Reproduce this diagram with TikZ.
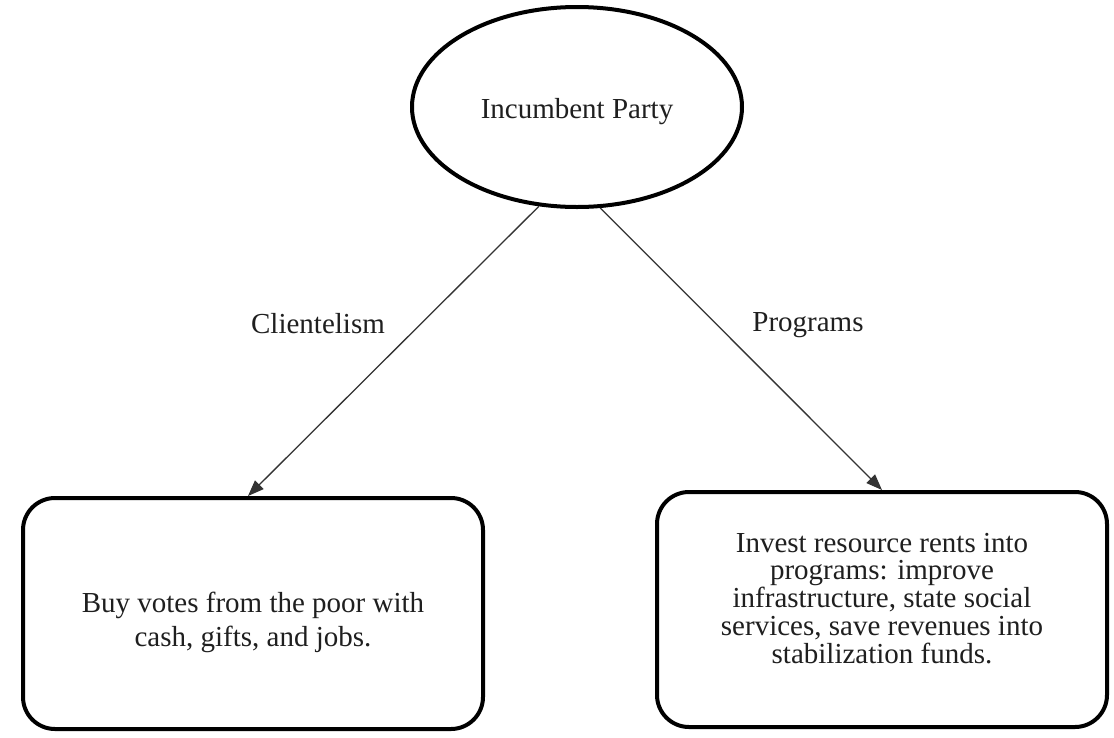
\documentclass[tikz,border=0pt]{standalone}
\usepackage{fontspec}
\setmainfont{Liberation Serif}
\usetikzlibrary{shapes.geometric,arrows.meta,calc}
\begin{document}
\begin{tikzpicture}[x=1pt,y=-1pt,
  every node/.style={font=\fontsize{29}{34}\selectfont, text=black!88},
  partyshape/.style={ellipse, draw, line width=4pt, minimum width=330pt,
    minimum height=200pt, inner sep=0pt, text height=22pt, text depth=0pt},
  outcome/.style={draw, line width=4pt, rounded corners=32pt, align=center, inner sep=0pt},
  link/.style={draw=black!80, line width=1.3pt, -{Triangle[length=16pt,width=12pt]}},
  linklabel/.style={anchor=base, inner sep=0pt}
]
\useasboundingbox (0,0) rectangle (1114,737);
\fill[white] (0,0) rectangle (1114,737);

% the party at the top
\node[partyshape] (party) at (577,107) {Incumbent Party};

% the two strategies (text height/depth place the last baseline)
\node[outcome, minimum width=460pt, minimum height=231pt,
      text height=70pt, text depth=5pt] (buy) at (253,613.5)
  {Buy votes from the poor with\\cash, gifts, and jobs.};
\node[outcome, minimum width=450pt, minimum height=235pt,
      font=\fontsize{29}{27.75}\selectfont,
      text height=112pt, text depth=5pt] (prog) at (882,609.5)
  {Invest resource rents into\\programs: improve\\infrastructure, state social\\services, save revenues into\\stabilization funds.};

% connectors
\draw[link] (party.249) -- ($(buy.north)+(-5,0)$);
\draw[link] (party.283) -- (prog.north);

% connector labels
\node[linklabel] (lclient) at (318,333) {Clientelism};
\node[linklabel] (lprog) at (808,331) {Programs};
\end{tikzpicture}
\end{document}
